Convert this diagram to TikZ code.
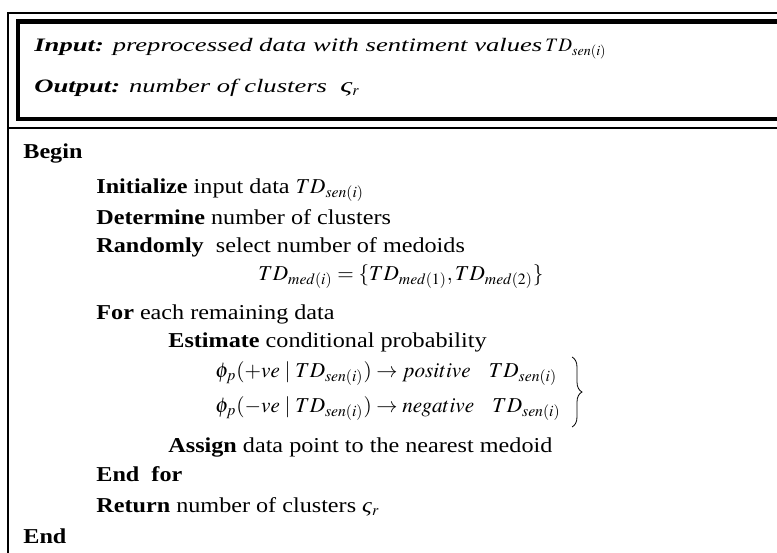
\documentclass[tikz,border=0pt]{standalone}
\usepackage{mathptmx}
\usepackage[no-math]{fontspec}
\setmainfont{Liberation Serif}[FakeStretch=1.14]
\newfontfamily\headfont{Liberation Serif}[FakeStretch=1.4]
\usetikzlibrary{decorations.pathreplacing}

\newcommand{\tdsen}{TD_{sen(i)}}
\newcommand{\clnum}{\textit{ς}$_{r}$}

\begin{document}
\begin{tikzpicture}[x=0.5pt,y=-0.5pt,
  step line/.style={anchor=base west,inner sep=0pt,font=\fontsize{10.6}{12}\selectfont},
  head line/.style={anchor=base west,inner sep=0pt,font=\headfont\itshape\fontsize{9.5}{11}\selectfont}]
\useasboundingbox (0,0) rectangle (777,552);
\clip (0,0) rectangle (777,552);
% frames
\draw[line width=0.8pt] (790,13) -| (8,560);
\draw[line width=2.2pt] (790,21.5) -| (18,119) -- (790,119);
\draw[line width=0.8pt] (8,128) -- (790,128);
% input / output
\node[head line] (inp) at (34,51) {\textbf{Input:} preprocessed data with sentiment values\,$\tdsen$};
\node[head line] (outp) at (34,92) {\textbf{Output:} number of clusters\ \ {\fontsize{10.6}{12}\selectfont\clnum}};
% steps
\node[step line] (begin) at (23,158) {\textbf{Begin}};
\node[step line] (init) at (96,193) {\textbf{Initialize} input data $\tdsen$};
\node[step line] (det) at (96,224) {\textbf{Determine} number of clusters};
\node[step line] (rand) at (96,252) {\textbf{Randomly}\ \ select number of medoids};
\node[step line] (med) at (258,280) {$TD_{med(i)}=\{TD_{med(1)},TD_{med(2)}\}$};
\node[step line] (loop) at (96,319) {\textbf{For} each remaining data};
\node[step line] (est) at (168,347) {\textbf{Estimate} conditional probability};
\node[step line] (pos) at (215,377) {$\phi_p(+ve\mid \tdsen)\rightarrow positive\ \ \ \tdsen$};
\node[step line] (neg) at (215,412) {$\phi_p(-ve\mid \tdsen)\rightarrow negative\ \ \ \tdsen$};
\node[step line] (assign) at (168,452) {\textbf{Assign} data point to the nearest medoid};
\node[step line] (endloop) at (96,481) {\textbf{End\ \ for}};
\node[step line] (ret) at (96,512) {\textbf{Return} number of clusters \clnum};
\node[step line] (end) at (23,543) {\textbf{End}};
% brace
\coordinate (btop) at (572,357);
\coordinate (bbot) at (572,427);
\draw[decorate,decoration={brace,amplitude=5pt}] (btop) -- (bbot);
\end{tikzpicture}
\end{document}
